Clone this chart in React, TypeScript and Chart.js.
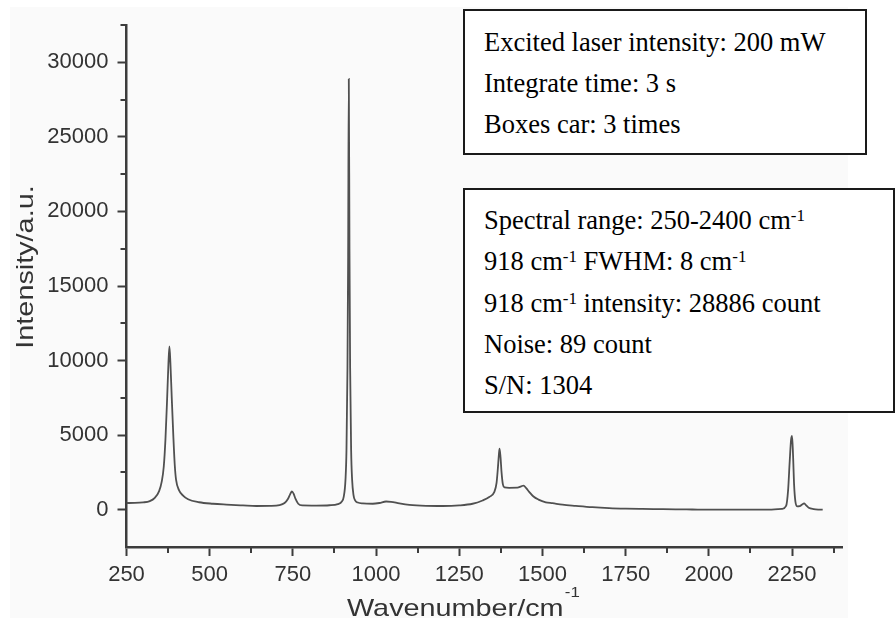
import React, { useEffect, useRef } from 'react';
import { Chart, registerables } from 'chart.js';

Chart.register(...registerables);

// ---------- data ----------
const wavenumbers = [
  250, 275, 300, 320, 335, 348, 356, 362, 367, 372, 376, 379, 382, 386, 391, 395, 399, 408, 420, 435,
  468, 510, 550, 600, 640, 680, 710, 725, 735, 742, 747, 752, 758, 766, 778, 820, 860, 885, 897, 903,
  908, 911, 914, 916, 918, 920, 922, 925, 928, 932, 937, 945, 960, 990, 1010, 1030, 1045, 1070, 1100, 1150,
  1200, 1250, 1290, 1320, 1340, 1355, 1362, 1366, 1369, 1371, 1374, 1377, 1381, 1386, 1400, 1425, 1436, 1443, 1451, 1460,
  1472, 1488, 1510, 1530, 1560, 1600, 1650, 1700, 1750, 1800, 1850, 1900, 1950, 2000, 2100, 2180, 2220, 2232, 2238, 2243,
  2247, 2250, 2253, 2256, 2260, 2266, 2273, 2280, 2286, 2292, 2300, 2315, 2330, 2342,
];
const intensities = [
  450, 455, 490, 580, 800, 1250, 1900, 2900, 4700, 7400, 9800, 10950, 9800, 7500, 4800, 3000, 2000, 1300, 950, 700,
  500, 400, 345, 290, 250, 260, 310, 450, 720, 1050, 1230, 1080, 720, 400, 290, 280, 300, 380, 550, 900,
  2000, 4000, 9500, 17000, 28886, 17500, 9500, 4000, 2000, 1000, 620, 480, 420, 400, 450, 550, 530, 420, 320, 260,
  250, 290, 400, 620, 850, 1180, 1800, 2800, 3700, 4100, 3500, 2500, 1700, 1500, 1470, 1480, 1570, 1620, 1450, 1200,
  900, 680, 500, 440, 340, 260, 170, 110, 75, 55, 40, 25, 15, 5, 0, 10, 60, 250, 1300, 3300,
  4700, 4950, 3600, 1700, 550, 230, 240, 350, 420, 300, 130, 40, 10, 5,
];
const xTickValues = [250, 500, 750, 1000, 1250, 1500, 1750, 2000, 2250];
const yTickValues = [0, 5000, 10000, 15000, 20000, 25000, 30000];
const xMinorTicks = [375, 625, 875, 1125, 1375, 1625, 1875, 2125, 2375];
const yMinorTicks = [2500, 7500, 12500, 17500, 22500, 27500, 32500];
const xRange = [250, 2400];
const yRange = [-2500, 32500];
const xTitle = 'Wavenumber/cm';
const xTitleSup = '-1';
const yTitle = 'Intensity/a.u.';
const infoLines1 = ['Excited laser intensity: 200 mW', 'Integrate time: 3 s', 'Boxes car: 3 times'];
// odd-index segments are superscripts
const infoLines2 = [
  ['Spectral range: 250-2400 cm', '-1'],
  ['918 cm', '-1', ' FWHM: 8 cm', '-1'],
  ['918 cm', '-1', ' intensity: 28886 count'],
  ['Noise: 89 count'],
  ['S/N: 1304'],
];

// ---------- styles ----------
const AXIS_COLOR = '#3c3c3c';
const LABEL_COLOR = '#333333';
const LINE_COLOR = '#505050';
const SANS = "'Liberation Sans', Arial, Helvetica, sans-serif";
const SERIF = "'Liberation Serif', 'Times New Roman', Times, serif";
const MINOR_LEN = 5;

const backgroundPlugin = {
  id: 'bgPanel',
  beforeDraw(chart: any) {
    const { ctx, width, height } = chart;
    ctx.save();
    ctx.fillStyle = '#ffffff';
    ctx.fillRect(0, 0, width, height);
    ctx.fillStyle = '#fafafa';
    ctx.fillRect(10, 7, 838, height - 7);
    ctx.restore();
  },
};

const minorTicksPlugin = {
  id: 'minorTicks',
  afterDraw(chart: any) {
    const { ctx, chartArea } = chart;
    const x = chart.scales.x;
    const y = chart.scales.y;
    ctx.save();
    ctx.strokeStyle = AXIS_COLOR;
    ctx.lineWidth = 2;
    ctx.beginPath();
    xMinorTicks.forEach((v) => {
      const px = Math.round(x.getPixelForValue(v));
      ctx.moveTo(px, chartArea.bottom);
      ctx.lineTo(px, chartArea.bottom + MINOR_LEN + 1);
    });
    yMinorTicks.forEach((v) => {
      const py = Math.round(y.getPixelForValue(v));
      ctx.moveTo(chartArea.left, py);
      ctx.lineTo(chartArea.left - MINOR_LEN - 1, py);
    });
    ctx.stroke();
    ctx.restore();
  },
};

const axisTitlesPlugin = {
  id: 'axisTitles',
  afterDraw(chart: any) {
    const { ctx } = chart;
    const sx = 1.2;
    ctx.save();
    ctx.fillStyle = LABEL_COLOR;
    ctx.textBaseline = 'alphabetic';
    // x title
    ctx.save();
    ctx.translate(347, 616);
    ctx.scale(sx, 1);
    ctx.font = `24px ${SANS}`;
    ctx.textAlign = 'left';
    ctx.fillText(xTitle, 0, 0);
    const w = ctx.measureText(xTitle).width;
    ctx.font = `14px ${SANS}`;
    ctx.fillText(xTitleSup, w + 1, -19);
    ctx.restore();
    // y title
    ctx.save();
    ctx.translate(33, 267);
    ctx.rotate(-Math.PI / 2);
    ctx.scale(sx, 1);
    ctx.font = `24px ${SANS}`;
    ctx.textAlign = 'center';
    ctx.fillText(yTitle, 0, 0);
    ctx.restore();
    ctx.restore();
  },
};

const boxBase: React.CSSProperties = {
  position: 'absolute',
  boxSizing: 'border-box',
  border: '2px solid #1a1a1a',
  background: '#ffffff',
  fontFamily: SERIF,
  fontSize: '26.5px',
  color: '#000',
  paddingLeft: 19,
  whiteSpace: 'pre',
};

const supStyle: React.CSSProperties = {
  fontSize: '17px',
  position: 'relative',
  top: '-8px',
  lineHeight: 0,
};

export default function App() {
  const canvasRef = useRef<HTMLCanvasElement | null>(null);

  useEffect(() => {
    document.body.style.margin = '0';
    const canvas = canvasRef.current;
    if (!canvas) return;
    const points = wavenumbers.map((w, i) => ({ x: w, y: intensities[i] }));
    const tickFont = { family: SANS, size: 22 };
    const chart = new Chart(canvas, {
      type: 'line',
      data: {
        datasets: [
          {
            data: points,
            borderColor: LINE_COLOR,
            borderWidth: 1.8,
            pointRadius: 0,
            fill: false,
            cubicInterpolationMode: 'monotone',
          },
        ],
      },
      options: {
        animation: false,
        responsive: false,
        devicePixelRatio: 1,
        layout: { padding: { left: 0, top: 25, right: 53, bottom: 0 } },
        plugins: { legend: { display: false }, tooltip: { enabled: false } },
        elements: { point: { radius: 0 } },
        scales: {
          x: {
            type: 'linear',
            min: xRange[0],
            max: xRange[1],
            afterBuildTicks: (axis: any) => {
              axis.ticks = xTickValues.map((v) => ({ value: v }));
            },
            afterFit: (axis: any) => {
              axis.height = 71;
            },
            ticks: {
              font: tickFont,
              color: LABEL_COLOR,
              padding: 6,
              maxRotation: 0,
              autoSkip: false,
              callback: (v: any) => String(v),
            },
            grid: {
              display: true,
              drawOnChartArea: false,
              drawTicks: true,
              tickLength: 9,
              tickWidth: 2,
              tickColor: AXIS_COLOR,
            },
            border: { display: true, color: AXIS_COLOR, width: 2.5 },
            title: { display: false },
          },
          y: {
            type: 'linear',
            min: yRange[0],
            max: yRange[1],
            afterBuildTicks: (axis: any) => {
              axis.ticks = yTickValues.map((v) => ({ value: v }));
            },
            afterFit: (axis: any) => {
              axis.width = 126.5;
            },
            ticks: {
              font: tickFont,
              color: LABEL_COLOR,
              padding: 9,
              autoSkip: false,
              callback: (v: any) => String(v),
            },
            grid: {
              display: true,
              drawOnChartArea: false,
              drawTicks: true,
              tickLength: 9,
              tickWidth: 2,
              tickColor: AXIS_COLOR,
            },
            border: { display: true, color: AXIS_COLOR, width: 2.5 },
            title: { display: false },
          },
        },
      },
      plugins: [backgroundPlugin, minorTicksPlugin, axisTitlesPlugin],
    } as any);
    return () => chart.destroy();
  }, []);

  return (
    <div style={{ position: 'relative', width: 895, height: 618, background: '#fff', overflow: 'hidden' }}>
      <canvas
        ref={canvasRef}
        width={895}
        height={618}
        style={{ position: 'absolute', left: 0, top: 0, width: 895, height: 618 }}
      />
      <div
        style={{
          ...boxBase,
          left: 463,
          top: 9,
          width: 404,
          height: 146,
          paddingTop: 11.4,
          lineHeight: '40.8px',
        }}
      >
        {infoLines1.map((line, i) => (
          <div key={i}>{line}</div>
        ))}
      </div>
      <div
        style={{
          ...boxBase,
          left: 463,
          top: 187.5,
          width: 432,
          height: 225,
          paddingTop: 10.2,
          lineHeight: '41.4px',
        }}
      >
        {infoLines2.map((segs, i) => (
          <div key={i}>
            {segs.map((s, j) =>
              j % 2 === 1 ? (
                <span key={j} style={supStyle}>
                  {s}
                </span>
              ) : (
                <span key={j}>{s}</span>
              )
            )}
          </div>
        ))}
      </div>
    </div>
  );
}
